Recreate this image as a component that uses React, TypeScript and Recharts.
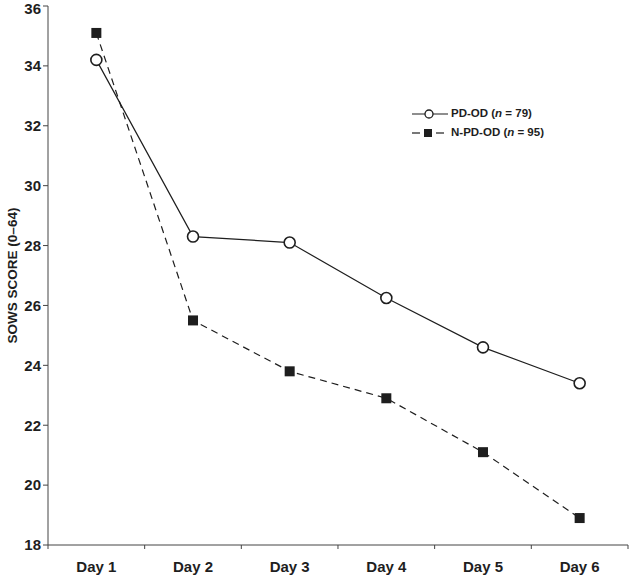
import { Line, LineChart, XAxis, YAxis } from "recharts";

const days = ["Day 1", "Day 2", "Day 3", "Day 4", "Day 5", "Day 6"];
const pdOd = [34.2, 28.3, 28.1, 26.25, 24.6, 23.4];
const nPdOd = [35.1, 25.5, 23.8, 22.9, 21.1, 18.9];
const yTicks = [18, 20, 22, 24, 26, 28, 30, 32, 34, 36];

const data = days.map((day, i) => ({ day, pdOd: pdOd[i], nPdOd: nPdOd[i] }));

const INK = "#1e1e1e";
const FONT = "'Liberation Sans', Arial, sans-serif";
const HALF_BAND = 48.35;

function SquareDot(props: any) {
  const { cx, cy } = props;
  if (cx == null || cy == null) return null;
  return <rect x={cx - 5} y={cy - 5} width={10} height={10} fill={INK} />;
}

function CircleDot(props: any) {
  const { cx, cy } = props;
  if (cx == null || cy == null) return null;
  return <circle cx={cx} cy={cy} r={5.5} fill="#fff" stroke={INK} strokeWidth={1.6} />;
}

// label at band centre, tick mark at band boundaries
function DayTick(props: any) {
  const { x, y, payload, index } = props;
  const last = index === days.length - 1;
  return (
    <g>
      <line x1={x - HALF_BAND} y1={y} x2={x - HALF_BAND} y2={y + 4} stroke="#444" />
      {last && <line x1={x + HALF_BAND} y1={y} x2={x + HALF_BAND} y2={y + 4} stroke="#444" />}
      <text x={x} y={y + 27} textAnchor="middle" fill={INK} fontSize={15} fontWeight={700} fontFamily={FONT}>
        {payload.value}
      </text>
    </g>
  );
}

function LegendBox() {
  const text = { fontFamily: FONT, fontWeight: 700, fontSize: 11.5, color: INK, lineHeight: "13px" };
  return (
    <div style={{ position: "absolute", left: 412, top: 107, display: "flex", flexDirection: "column", gap: 6 }}>
      <div style={{ display: "flex", alignItems: "center", gap: 3 }}>
        <svg width={36} height={12}>
          <line x1={0} y1={6} x2={36} y2={6} stroke={INK} strokeWidth={1.2} />
          <circle cx={17} cy={6} r={4} fill="#fff" stroke={INK} strokeWidth={1.3} />
        </svg>
        <span style={text}>PD-OD (<i>n</i> = 79)</span>
      </div>
      <div style={{ display: "flex", alignItems: "center", gap: 3 }}>
        <svg width={36} height={12}>
          <line x1={0} y1={6} x2={8} y2={6} stroke={INK} strokeWidth={1.2} />
          <rect x={12} y={2} width={8} height={8} fill={INK} />
          <line x1={24} y1={6} x2={32} y2={6} stroke={INK} strokeWidth={1.2} />
        </svg>
        <span style={text}>N-PD-OD (<i>n</i> = 95)</span>
      </div>
    </div>
  );
}

export default function App() {
  return (
    <div style={{ position: "absolute", left: 0, top: 0, width: 631, height: 576, background: "#fff" }}>
      <LineChart width={631} height={576} data={data} margin={{ top: 6, right: 3, left: 0, bottom: 0 }}>
        <XAxis
          dataKey="day"
          height={31}
          padding={{ left: HALF_BAND, right: HALF_BAND }}
          tickLine={false}
          tickSize={0}
          tickMargin={0}
          stroke="#444"
          tick={<DayTick />}
          interval={0}
        />
        <YAxis
          width={48}
          domain={[18, 36]}
          ticks={yTicks}
          tickSize={5}
          tickMargin={2}
          stroke="#444"
          tick={{ fill: INK, fontSize: 15, fontWeight: 700, fontFamily: FONT }}
          label={{
            value: "SOWS SCORE (0–64)",
            angle: -90,
            position: "insideLeft",
            offset: 12,
            style: { fill: INK, fontSize: 13.5, fontWeight: 700, fontFamily: FONT, textAnchor: "middle" },
          }}
        />
        <Line
          dataKey="pdOd"
          type="linear"
          stroke={INK}
          strokeWidth={1.2}
          dot={<CircleDot />}
          activeDot={false}
          isAnimationActive={false}
        />
        <Line
          dataKey="nPdOd"
          type="linear"
          stroke={INK}
          strokeWidth={1.2}
          strokeDasharray="7 5"
          dot={<SquareDot />}
          activeDot={false}
          isAnimationActive={false}
        />
      </LineChart>
      <LegendBox />
    </div>
  );
}
